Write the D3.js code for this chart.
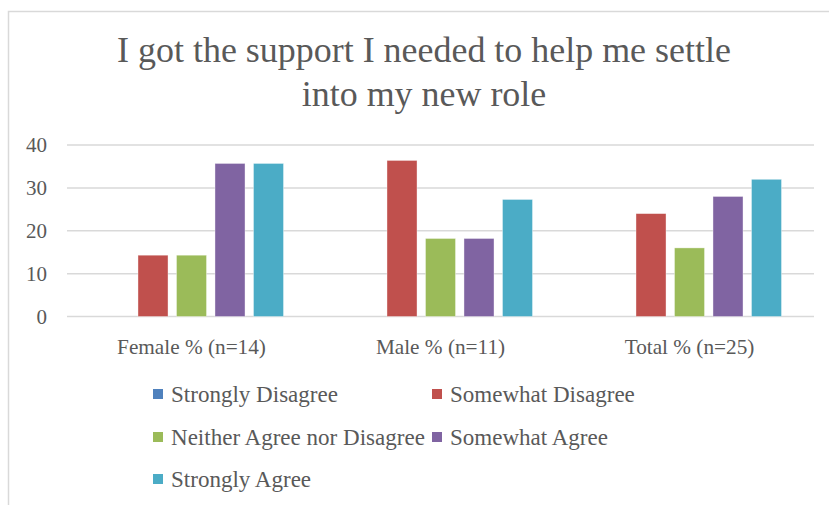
<!DOCTYPE html>
<html>
<head>
<meta charset="utf-8">
<script src="https://cdn.jsdelivr.net/npm/d3@7"></script>
<style>
  html, body { margin: 0; padding: 0; background: #fff; }
  svg { display: block; }
  text { font-family: "Liberation Serif", "DejaVu Serif", serif; fill: #595959; }
</style>
</head>
<body>
<svg id="chart" width="829" height="505"></svg>
<script>
// Survey response shares (%) by respondent group
const groups = ["Female % (n=14)", "Male % (n=11)", "Total % (n=25)"];
const responses = ["Strongly Disagree", "Somewhat Disagree", "Neither Agree nor Disagree", "Somewhat Agree", "Strongly Agree"];
const stronglyDisagree = [0, 0, 0];
const somewhatDisagree = [14.3, 36.4, 24];
const neitherAgree = [14.3, 18.2, 16];
const somewhatAgree = [35.7, 18.2, 28];
const stronglyAgree = [35.7, 27.3, 32];
const yTicks = [0, 10, 20, 30, 40];
const titleLines = ["I got the support I needed to help me settle", "into my new role"];

const seriesValues = [stronglyDisagree, somewhatDisagree, neitherAgree, somewhatAgree, stronglyAgree];
const colors = ["#4F81BD", "#C0504D", "#9BBB59", "#8064A2", "#4BACC6"];

const svg = d3.select("#chart");

// Set a text element's font size so its rendered width equals `target`
function fitWidth(node, target) {
  const sel = d3.select(node);
  sel.style("font-size", "100px");
  const w = node.getComputedTextLength();
  const size = 100 * target / w;
  sel.style("font-size", size + "px");
  return size;
}

// chart area border
svg.append("rect")
  .attr("x", 8.5).attr("y", 11.5)
  .attr("width", 840).attr("height", 520)
  .attr("fill", "none").attr("stroke", "#D9D9D9").attr("stroke-width", 1.5);

// title
const t1 = svg.append("text").attr("x", 424).attr("y", 62).attr("text-anchor", "middle").text(titleLines[0]);
const titleSize = fitWidth(t1.node(), 614);
svg.append("text").attr("x", 424).attr("y", 106).attr("text-anchor", "middle")
  .style("font-size", titleSize + "px").text(titleLines[1]);

// scales
const x0 = d3.scaleBand().domain(groups).range([67, 814]).padding(0);
const x1 = d3.scaleBand().domain(responses).range([0, x0.bandwidth()])
  .paddingInner(0.22).paddingOuter(0.844);
const y = d3.scaleLinear().domain([0, 40]).range([316.5, 145]);

// gridlines
svg.append("g").selectAll("line").data(yTicks).join("line")
  .attr("x1", 67).attr("x2", 814)
  .attr("y1", d => y(d)).attr("y2", d => y(d))
  .attr("stroke", "#D9D9D9").attr("stroke-width", 1.5);

// y axis labels
const yAxis = svg.append("g").attr("transform", "translate(49,0)")
  .call(d3.axisLeft(y).tickValues(yTicks).tickSize(0).tickPadding(2));
yAxis.select(".domain").remove();
yAxis.selectAll("text").attr("font-family", null).attr("fill", null);
const ySize = fitWidth(yAxis.selectAll("text").filter(d => d === 40).node(), 21);
yAxis.selectAll("text").style("font-size", ySize + "px");

// x axis labels
const xAxis = svg.append("g").attr("transform", "translate(0,317)")
  .call(d3.axisBottom(x0).tickSize(0).tickPadding(0));
xAxis.select(".domain").remove();
xAxis.selectAll("text").attr("font-family", null).attr("fill", null).attr("dy", null).attr("y", 37);
const xSize = fitWidth(xAxis.selectAll("text").filter(d => d === groups[0]).node(), 149);
xAxis.selectAll("text").style("font-size", xSize + "px");

// bars
const groupG = svg.append("g").selectAll("g").data(groups).join("g")
  .attr("transform", d => `translate(${x0(d)},0)`);
groupG.selectAll("rect")
  .data((g, gi) => responses.map((r, ri) => ({ r, ri, v: seriesValues[ri][gi] })))
  .join("rect")
  .attr("x", d => x1(d.r))
  .attr("width", x1.bandwidth())
  .attr("y", d => y(d.v))
  .attr("height", d => y(0) - y(d.v))
  .attr("fill", d => colors[d.ri])
  .attr("stroke", d => d.v > 0 ? "#ffffff" : "none")
  .attr("stroke-opacity", 0.5)
  .attr("stroke-width", 0.75);

// legend
const legendCols = [153, 432];
const legendRows = [394, 437, 479];
const legend = svg.append("g").selectAll("g").data(responses).join("g")
  .attr("transform", (d, i) => `translate(${legendCols[i % 2]},${legendRows[Math.floor(i / 2)]})`);
legend.append("rect")
  .attr("x", 0).attr("y", -5).attr("width", 10).attr("height", 10)
  .attr("fill", (d, i) => colors[i]);
const legendText = legend.append("text")
  .attr("x", 18).attr("y", 0).attr("dy", "0.35em").text(d => d);
const lSize = fitWidth(legendText.filter(d => d === responses[2]).node(), 254);
legendText.style("font-size", lSize + "px");
</script>
</body>
</html>
